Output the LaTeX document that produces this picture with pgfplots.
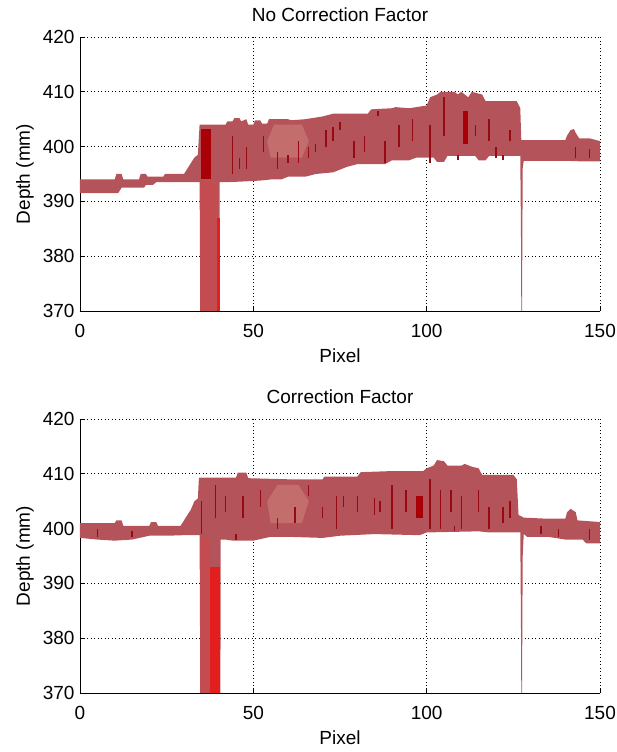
\documentclass[border=0pt]{standalone}
\usepackage{pgfplots}
\pgfplotsset{compat=1.18}
\usepackage{fontspec}
\setmainfont{Liberation Sans}
\definecolor{band}{RGB}{180,84,90}
\definecolor{darkp}{RGB}{150,10,20}
\definecolor{brightr}{RGB}{226,30,30}
\definecolor{spikec}{RGB}{194,76,80}
\definecolor{hil}{RGB}{214,140,132}
\definecolor{deep}{RGB}{168,0,6}
\pgfplotsset{mystyle/.style={
  scale only axis, width=520pt, height=274pt,
  xmin=0, xmax=150, ymin=370, ymax=420,
  xtick={0,50,100,150}, ytick={370,380,390,400,410,420},
  axis x line=bottom, axis y line=left,
  axis line style={-, line width=0.9pt, black},
  tick align=inside, major tick length=5pt,
  tick style={black, line width=0.9pt},
  grid=major,
  grid style={black, line width=0.9pt, dash pattern=on 0.9pt off 2.6pt},
  font=\fontsize{19}{22}\selectfont,
  /pgf/number format/assume math mode=true,
  tick label style={font=\fontsize{19}{22}\selectfont},
  xticklabel style={anchor=center, yshift=-20pt},
  yticklabel style={anchor=east, xshift=-2pt},
  every axis x label/.style={at={(axis description cs:0.5,-0.164)}, anchor=center},
  every axis y label/.style={at={(axis description cs:-0.106,0.5)}, anchor=center, rotate=90},
  every axis title/.style={at={(axis description cs:0.5,1.083)}, anchor=center},
  unbounded coords=jump,
}}
\begin{document}
\begin{tikzpicture}
\useasboundingbox (0,0) rectangle (616pt,752pt);
% ---------------- top ----------------
\begin{axis}[mystyle, at={(80pt,441pt)}, anchor=south west,
  title={No Correction Factor}, xlabel={Pixel}, ylabel={Depth (mm)}]
\addplot[fill=band, draw=none] coordinates {
(0,394)(10,394)(10.5,395)(12,395)(12.5,394)(17,394)(17.5,395)(19,395)(19.5,394.5)(24,394.5)(24.5,395)(30,395)(31,396)(32,397)(33,398)(34,398.5)(34.5,404)(42,404)(42.5,404.6)(44,404.6)(44.5,405.2)(46,405.2)(46.5,404.6)(48,405)(48.5,404)(50,404)(50.5,404.8)(52,404.8)(52.5,404.2)(54,404.2)(54.5,405)(60,405)(61,404.8)(65,405)(70,405.5)(73,406)(83,406)(84,406.8)(90,407)(91,407.2)(95,407)(100,407.5)(101,409)(103,409.5)(104,410)(108,410)(109,409.5)(110,410)(112,409)(113,410)(116,409.5)(117,408.3)(126,408.3)(127,407)(127.3,401.2)(140,401.2)(140.5,402)(141.5,403)(142.5,403.2)(143,402.5)(144,401.5)(147,401.5)(150,401)
(150,397.3)(145,397.3)(140,397.4)(128,397.4)(127.7,396)(127.5,370)(127.3,370)(127.2,385)(127,398.3)(118,398.3)(117,397.5)(115,397.5)(114,398.3)(106,398.3)(105,397.2)(103,397.2)(102,398)(97,398)(95,397.5)(90,397.5)(88,396.8)(80,396.8)(77,396.3)(73,395.3)(68,395)(65,394.5)(60,394.5)(58,394)(55,394)(52,393.8)(46,393.6)(42,393.5)(40.3,393.5)(40.2,370)(34.7,370)(34.5,393.5)(30,393.5)(22,393.5)(21,393)(19,393)(18.5,392.5)(12,392.5)(11,391.5)(0,391.5)} -- cycle;
\addplot[fill=spikec, draw=none] coordinates {(34.7,393.5)(39.6,393.5)(39.6,370)(34.7,370)} -- cycle;
\addplot[fill=brightr, draw=none] coordinates {(39.6,387)(40.3,387)(40.3,370)(39.6,370)} -- cycle;
\addplot[fill=deep, draw=none] coordinates {(35,394)(37.8,394)(37.8,403.3)(35,403.3)} -- cycle;
\addplot[fill=deep, draw=none] coordinates {(110.5,400.5)(112,400.5)(112,406.5)(110.5,406.5)} -- cycle;
\addplot[fill=hil, draw=none, opacity=0.45] coordinates {(55,398)(64,398)(66,401)(64,404)(56,404)(54,401)} -- cycle;
\addplot[darkp, line width=1.3pt] coordinates {
(44,395)(44,402)(44,nan)(48,396)(48,400)(48,nan)(53,399)(53,402)(53,nan)(57,396)(57,399)(57,nan)
(63,397)(63,401)(63,nan)(66,398)(66,400)(66,nan)(71,400)(71,403)(71,nan)(73,401)(73,403.5)(73,nan)
(75,403)(75,404.5)(75,nan)(79,398)(79,401)(79,nan)(82,399)(82,402)(82,nan)(86,405.5)(86,406.5)(86,nan)
(88,397)(88,401)(88,nan)(92,400)(92,404)(92,nan)(96,401)(96,405)(96,nan)(101,397)(101,404)(101,nan)
(105,402)(105,409)(105,nan)(114,402)(114,404)(114,nan)(118,401)(118,405)(118,nan)(120,398)(120,400)(120,nan)
(124,401)(124,403)(124,nan)(143,398)(143,400)(143,nan)(147,398)(147,399.5)(147,nan)
(46,396)(46,398)(46,nan)(60,397)(60,398.5)(60,nan)(68,399)(68,400.5)(68,nan)(109,397.5)(109,398.5)(109,nan)(122,397.5)(122,398.5)};
\end{axis}
% ---------------- bottom ----------------
\begin{axis}[mystyle, at={(80pt,59pt)}, anchor=south west,
  title={Correction Factor}, xlabel={Pixel}, ylabel={Depth (mm)}]
\addplot[fill=band, draw=none] coordinates {
(0,401)(10,401)(10.5,401.5)(12,401.5)(12.5,400.5)(20,400.5)(20.5,401.2)(22,401.2)(22.5,400.5)(29,400.5)(30,401.5)(31,402.5)(32,403.5)(33,405)(34,405.5)(34.3,409.3)(45,409.3)(45.5,410.2)(48,410.2)(48.5,409.2)(60,409)(70,409)(70.5,409.5)(80,409.5)(81,410.3)(90,410.5)(99,410.5)(100,411)(102,411.5)(103,412.5)(105,412.3)(106,411.5)(110,411.5)(111,411.8)(113,411.3)(115,411)(116,409.8)(125,409.8)(126,409)(126.5,402.5)(128,402)(135,401.8)(140,401.8)(140.5,403)(141.5,403.6)(143,403)(143.5,401.5)(150,401.2)
(150,397.3)(146,397.3)(145,398)(140,398)(135,398.5)(129,398.5)(128,399)(127.7,395)(127.5,370)(127.3,370)(127.2,383)(127,399.3)(118,399.3)(115,399.5)(100,399.3)(98,398.8)(85,399)(75,398.7)(70,398.3)(60,398.5)(55,398.5)(50,397.8)(44,397.8)(42,398)(40.6,398)(40.5,370)(34.7,370)(34.5,398.8)(30,398.8)(25,398.7)(20,398.7)(15,398)(10,397.8)(5,398)(0,398.3)} -- cycle;
\addplot[fill=spikec, draw=none] coordinates {(34.7,398.5)(37.5,398.5)(37.5,370)(34.7,370)} -- cycle;
\addplot[fill=brightr, draw=none] coordinates {(37.5,393)(40.5,393)(40.5,370)(37.5,370)} -- cycle;
\addplot[fill=hil, draw=none, opacity=0.45] coordinates {(55,401)(64,401)(66,405)(63,408)(57,408)(54,405)} -- cycle;
\addplot[fill=deep, draw=none] coordinates {(97,402)(99,402)(99,406)(97,406)} -- cycle;
\addplot[darkp, line width=1.3pt] coordinates {
(35,399)(35,405)(35,nan)(39,402)(39,408)(39,nan)(42,403)(42,406)(42,nan)(47,402)(47,406)(47,nan)
(52,404)(52,407)(52,nan)(57,400)(57,402)(57,nan)(62,401)(62,404)(62,nan)(66,406)(66,408)(66,nan)
(70,402)(70,404)(70,nan)(74,400)(74,406)(74,nan)(76,404)(76,406)(76,nan)(80,403)(80,406)(80,nan)
(85,402.5)(85,405.5)(85,nan)(86.5,403)(86.5,405)(86.5,nan)(90,400)(90,408)(90,nan)(94,403)(94,407)(94,nan)
(101,400)(101,409)(101,nan)(104,400)(104,407)(104,nan)(107,403)(107,407)(107,nan)
(110,400)(110,406)(110,nan)(115,403)(115,407)(115,nan)(118,400)(118,404)(118,nan)(122,401)(122,404)(122,nan)
(124,402)(124,405)(124,nan)(5,398.5)(5,400)(5,nan)(15,398.5)(15,399.5)(15,nan)(45,398)(45,399)(45,nan)
(108,399.5)(108,400.5)(108,nan)(133,399)(133,400.5)(133,nan)(138,398.5)(138,400)(138,nan)(147,398)(147,400)};
\end{axis}
\end{tikzpicture}
\end{document}
